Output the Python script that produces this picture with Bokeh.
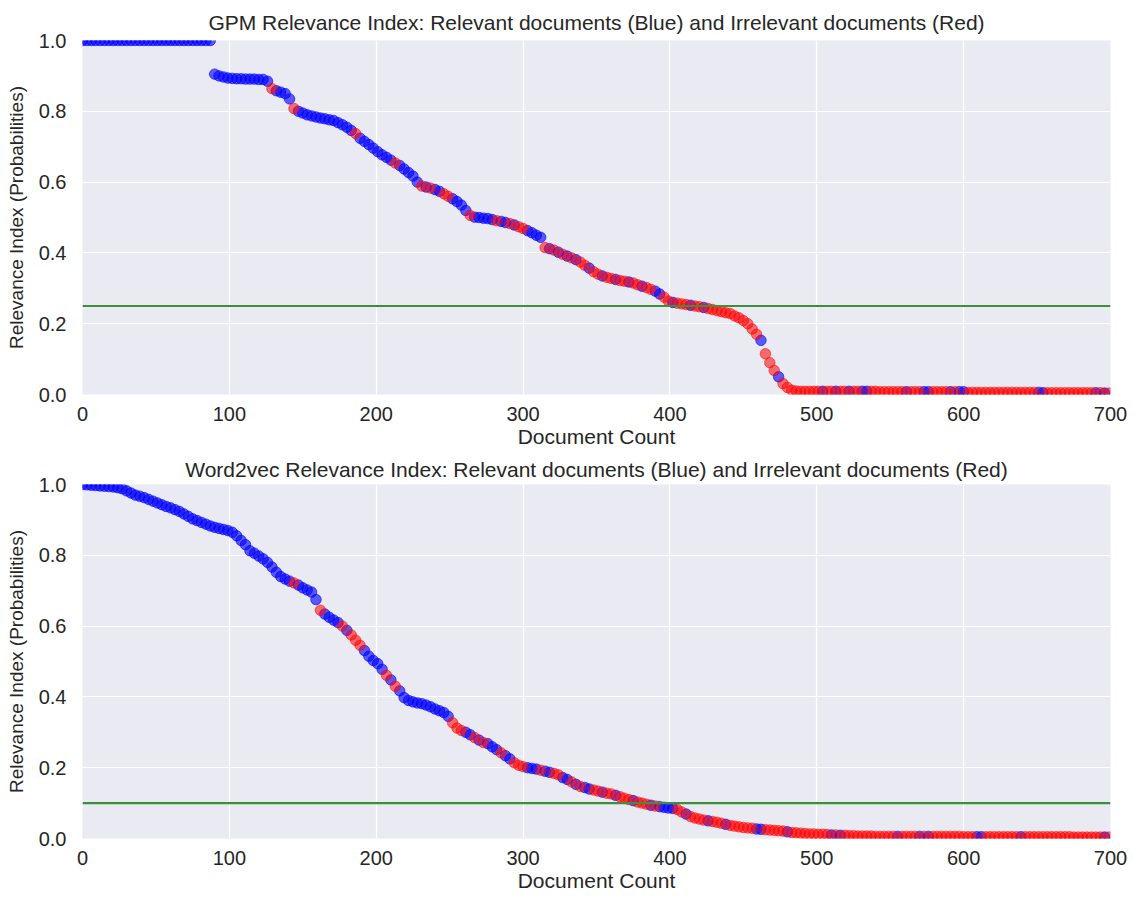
from bokeh.plotting import figure
from bokeh.layouts import column
from bokeh.models import Span, FixedTicker, PrintfTickFormatter, Range1d
from bokeh.embed import file_html
from bokeh.resources import INLINE

# Ranked document positions (every 3rd document)
doc_count = list(range(0, 700, 3))

# GPM relevance index, ranked (10 samples per row)
gpm_values = [
    1.0, 1.0, 1.0, 1.0, 1.0, 1.0, 1.0, 1.0, 1.0, 1.0,
    1.0, 1.0, 1.0, 1.0, 1.0, 1.0, 1.0, 1.0, 1.0, 1.0,
    1.0, 1.0, 1.0, 1.0, 1.0, 1.0, 1.0, 1.0, 1.0, 1.0,
    0.905, 0.9, 0.897, 0.894, 0.893, 0.892, 0.892, 0.891, 0.891, 0.891,
    0.89, 0.89, 0.885, 0.864, 0.858, 0.854, 0.85, 0.835, 0.808, 0.8,
    0.795, 0.79, 0.787, 0.784, 0.781, 0.779, 0.776, 0.774, 0.768, 0.762,
    0.755, 0.746, 0.737, 0.724, 0.715, 0.706, 0.696, 0.686, 0.677, 0.67,
    0.662, 0.654, 0.647, 0.637, 0.627, 0.617, 0.6, 0.589, 0.586, 0.583,
    0.579, 0.574, 0.567, 0.56, 0.553, 0.545, 0.535, 0.52, 0.506, 0.501,
    0.5, 0.498, 0.497, 0.494, 0.491, 0.489, 0.486, 0.483, 0.479, 0.474,
    0.469, 0.463, 0.457, 0.45, 0.444, 0.415, 0.412, 0.408, 0.402, 0.396,
    0.391, 0.386, 0.381, 0.374, 0.365, 0.357, 0.347, 0.34, 0.335, 0.331,
    0.328, 0.325, 0.322, 0.32, 0.318, 0.315, 0.31, 0.306, 0.302, 0.297,
    0.292, 0.284, 0.275, 0.264, 0.26, 0.258, 0.256, 0.254, 0.252, 0.25,
    0.248, 0.246, 0.243, 0.24, 0.237, 0.234, 0.231, 0.229, 0.222, 0.217,
    0.209, 0.2, 0.185, 0.17, 0.153, 0.115, 0.09, 0.068, 0.05, 0.031,
    0.02, 0.012, 0.01, 0.009, 0.009, 0.009, 0.009, 0.009, 0.009, 0.009,
    0.009, 0.009, 0.009, 0.009, 0.009, 0.009, 0.009, 0.009, 0.009, 0.009,
    0.009, 0.008, 0.008, 0.008, 0.008, 0.008, 0.008, 0.008, 0.008, 0.008,
    0.008, 0.008, 0.008, 0.008, 0.008, 0.008, 0.008, 0.008, 0.008, 0.008,
    0.008, 0.006, 0.006, 0.006, 0.006, 0.006, 0.006, 0.006, 0.006, 0.006,
    0.006, 0.006, 0.006, 0.006, 0.006, 0.006, 0.006, 0.006, 0.005, 0.005,
    0.005, 0.005, 0.005, 0.005, 0.005, 0.005, 0.005, 0.005, 0.005, 0.005,
    0.005, 0.005, 0.004, 0.004,
]
# B = relevant document, R = irrelevant document
gpm_labels = "".join([
    "BBBBBBBBBB", "BBBBBBBBBB", "BBBBBBBBBB", "BBBBBBBBBB", "BBBRBBBBRB",
    "BBBBBBBBBB", "BBRBBBBBBB", "BRBBBBBRBR", "BBRRBBBBRB", "BBBBRBBRBR",
    "RBBBBRBRBR", "BRBRRBRRBR", "RBRRBRRBRR", "BBRRBRRRBR", "RBRRRRRRRR",
    "RRRRBRRRBR", "RRRRRRRRBR", "RBRRBRRBBR", "RRRRRRRBRR", "RBBRRRRBRB",
    "BRRRRRRRRR", "RRRRRRRBBR", "RRRRRRRRRR", "BRBR",
])

# Word2vec relevance index, ranked
w2v_values = [
    1.0, 0.999, 0.998, 0.997, 0.996, 0.995, 0.994, 0.993, 0.991, 0.988,
    0.982, 0.976, 0.97, 0.967, 0.963, 0.958, 0.953, 0.948, 0.943, 0.938,
    0.934, 0.929, 0.924, 0.917, 0.91, 0.903, 0.898, 0.893, 0.888, 0.883,
    0.879, 0.876, 0.873, 0.87, 0.865, 0.855, 0.842, 0.83, 0.813, 0.806,
    0.798, 0.79, 0.78, 0.767, 0.752, 0.74, 0.733, 0.727, 0.722, 0.716,
    0.708, 0.702, 0.696, 0.675, 0.645, 0.634, 0.625, 0.617, 0.61, 0.6,
    0.588, 0.575, 0.56, 0.546, 0.531, 0.515, 0.503, 0.494, 0.478, 0.461,
    0.448, 0.43, 0.417, 0.398, 0.39, 0.386, 0.383, 0.381, 0.377, 0.372,
    0.366, 0.361, 0.356, 0.345, 0.327, 0.312, 0.305, 0.3, 0.293, 0.285,
    0.278, 0.271, 0.268, 0.259, 0.251, 0.242, 0.234, 0.225, 0.214, 0.207,
    0.203, 0.2, 0.198, 0.196, 0.193, 0.19, 0.187, 0.184, 0.18, 0.172,
    0.167, 0.16, 0.153, 0.147, 0.144, 0.14, 0.137, 0.134, 0.131, 0.128,
    0.126, 0.122, 0.118, 0.114, 0.11, 0.107, 0.103, 0.1, 0.097, 0.094,
    0.092, 0.09, 0.088, 0.086, 0.085, 0.082, 0.075, 0.069, 0.062, 0.058,
    0.055, 0.052, 0.05, 0.048, 0.046, 0.043, 0.04, 0.037, 0.035, 0.033,
    0.031, 0.03, 0.029, 0.027, 0.026, 0.025, 0.024, 0.023, 0.022, 0.021,
    0.019, 0.017, 0.016, 0.015, 0.014, 0.013, 0.013, 0.012, 0.012, 0.011,
    0.01, 0.01, 0.009, 0.009, 0.008, 0.008, 0.007, 0.007, 0.007, 0.007,
    0.006, 0.006, 0.006, 0.006, 0.006, 0.006, 0.006, 0.006, 0.006, 0.006,
    0.006, 0.006, 0.006, 0.006, 0.006, 0.006, 0.006, 0.006, 0.006, 0.006,
    0.005, 0.005, 0.005, 0.005, 0.005, 0.005, 0.005, 0.005, 0.005, 0.005,
    0.005, 0.005, 0.005, 0.005, 0.005, 0.005, 0.005, 0.005, 0.005, 0.005,
    0.005, 0.005, 0.005, 0.005, 0.005, 0.004, 0.004, 0.004, 0.004, 0.004,
    0.004, 0.004, 0.004, 0.004,
]
w2v_labels = "".join([
    "BBBBBBBBBB", "BBBBBBBBBB", "BBBBBBBBBB", "BBBBBBBBBB", "BBBBBBBBRB",
    "BBBBRBBBBR", "BRRRBBBBBR", "BRBBBBBBBB", "BBBBRRRBBR", "BRBBBRBBRR",
    "RBBBRBBRRB", "BRBRBBRRBR", "RBRRRBRRRB", "RBBBBRRBRR", "RRBRRRBRRR",
    "RRRBBRRRRR", "BRRRRRRRRR", "BRBRRRRRRR", "RRRRRBRRRR", "BRBRRRRRRR",
    "RRRBBRRRRR", "RRRBRRRRRR", "RRRRRRRRRR", "RRBR",
])

gpm_threshold = 0.25
w2v_threshold = 0.1

x_ticks = [0, 100, 200, 300, 400, 500, 600, 700]
y_ticks = [0.0, 0.2, 0.4, 0.6, 0.8, 1.0]

assert len(gpm_values) == len(doc_count) == len(gpm_labels)
assert len(w2v_values) == len(doc_count) == len(w2v_labels)

FONT = "Liberation Sans"
TEXT = "#262626"
BG = "#EAEAF2"


def panel(title, values, labels, threshold, top, bottom, title_gap):
    p = figure(
        width=1135, height=top + 354 + bottom,
        frame_width=1028, frame_height=354,
        x_range=Range1d(0, 700), y_range=Range1d(0, 1),
        output_backend="svg", toolbar_location=None,
        min_border_left=82, min_border_right=25,
        min_border_top=top, min_border_bottom=bottom,
        background_fill_color=BG, border_fill_color="white",
    )
    p.outline_line_color = None
    p.title.text = title
    p.title.align = "center"
    p.title.text_font = FONT
    p.title.text_font_size = "21px"
    p.title.text_font_style = "normal"
    p.title.text_color = TEXT
    p.title.standoff = title_gap

    for ax in (p.xaxis, p.yaxis):
        ax.axis_line_color = None
        ax.major_tick_line_color = None
        ax.minor_tick_line_color = None
        ax.major_label_text_font = FONT
        ax.major_label_text_font_size = "20px"
        ax.major_label_text_color = TEXT
        ax.axis_label_text_font = FONT
        ax.axis_label_text_font_style = "normal"
        ax.axis_label_text_color = TEXT
    p.xaxis.axis_label_text_font_size = "21px"
    p.yaxis.axis_label_text_font_size = "19px"
    p.xaxis.major_label_standoff = 6
    p.xaxis.axis_label_standoff = 1
    p.yaxis.major_label_standoff = 10
    p.yaxis.axis_label_standoff = 9

    p.xaxis.ticker = FixedTicker(ticks=x_ticks)
    p.yaxis.ticker = FixedTicker(ticks=y_ticks)
    p.yaxis.formatter = PrintfTickFormatter(format="%.1f")
    p.xaxis.axis_label = "Document Count"
    p.yaxis.axis_label = "Relevance Index (Probabilities)"

    p.grid.grid_line_color = "white"
    p.grid.grid_line_width = 1.2

    p.add_layout(Span(location=threshold, dimension="width",
                      line_color="#3C8F3C", line_width=2.2, level="glyph"))

    bx = [d for d, l in zip(doc_count, labels) if l == "B"]
    by = [v for v, l in zip(values, labels) if l == "B"]
    rx = [d for d, l in zip(doc_count, labels) if l == "R"]
    ry = [v for v, l in zip(values, labels) if l == "R"]
    p.scatter(bx, by, size=10.5, color="#0000FF", alpha=0.62)
    p.scatter(rx, ry, size=10.5, color="#FF0000", alpha=0.55)
    return p


top_plot = panel(
    "GPM Relevance Index: Relevant documents (Blue) and Irrelevant documents (Red)",
    gpm_values, gpm_labels, gpm_threshold, 40, 56, 13)
bottom_plot = panel(
    "Word2vec Relevance Index: Relevant documents (Blue) and Irrelevant documents (Red)",
    w2v_values, w2v_labels, w2v_threshold, 34, 60, 8)

layout = column(top_plot, bottom_plot, spacing=0)
open("out.html", "w").write(file_html(layout, INLINE))
